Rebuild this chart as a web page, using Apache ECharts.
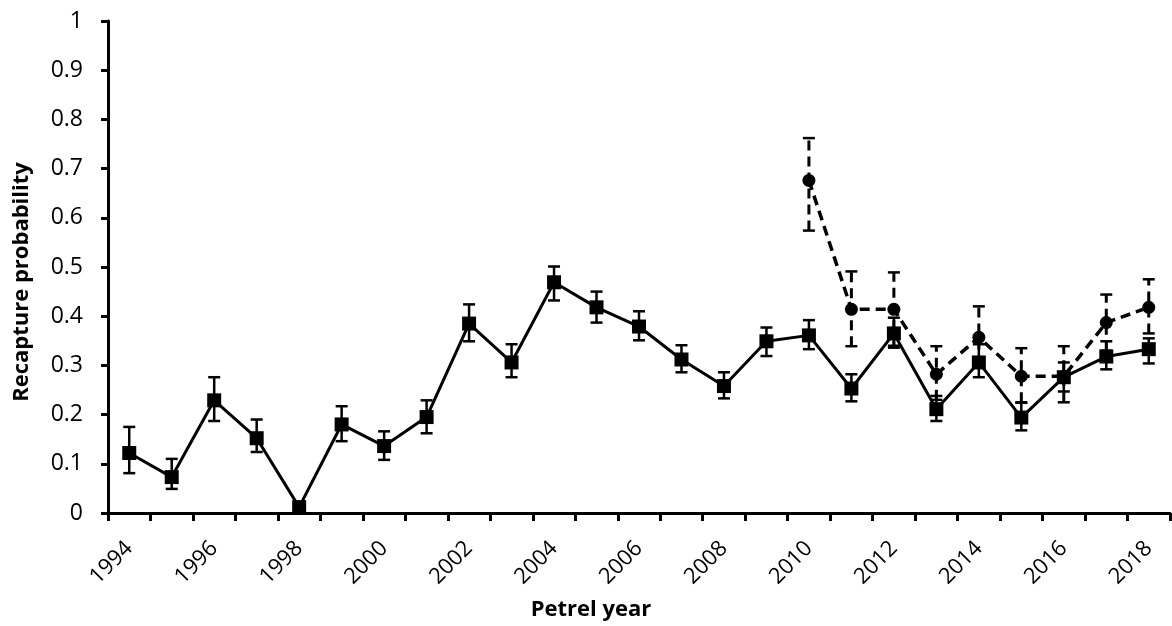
<!DOCTYPE html>
<html>
<head>
<meta charset="utf-8">
<script src="https://cdn.jsdelivr.net/npm/echarts@6/dist/echarts.min.js"></script>
<style>html,body{margin:0;padding:0;background:#fff;}#c{width:1172px;height:626px;}</style>
</head>
<body>
<div id="c"></div>
<script>
const years = ['1994','1995','1996','1997','1998','1999','2000','2001','2002','2003','2004','2005','2006','2007','2008','2009','2010','2011','2012','2013','2014','2015','2016','2017','2018'];
const yTicks = [0,0.1,0.2,0.3,0.4,0.5,0.6,0.7,0.8,0.9,1];

// Solid series (squares)
const solidValues = [0.122,0.073,0.229,0.152,0.012,0.180,0.136,0.195,0.385,0.306,0.469,0.418,0.379,0.312,0.258,0.349,0.361,0.253,0.365,0.211,0.306,0.194,0.276,0.318,0.333];
const solidLower  = [0.081,0.049,0.187,0.124,0.004,0.146,0.108,0.162,0.349,0.276,0.432,0.387,0.351,0.286,0.233,0.319,0.333,0.227,0.336,0.187,0.276,0.168,0.247,0.292,0.304];
const solidUpper  = [0.175,0.110,0.276,0.190,0.022,0.217,0.166,0.229,0.424,0.343,0.501,0.450,0.410,0.341,0.286,0.377,0.392,0.282,0.397,0.238,0.343,0.224,0.306,0.349,0.355];

// Dashed series (circles), 2010-2018
const dashedYears  = ['2010','2011','2012','2013','2014','2015','2016','2017','2018'];
const dashedValues = [0.676,0.414,0.414,0.282,0.357,0.278,0.278,0.387,0.418];
const dashedLower  = [0.574,0.339,0.340,0.230,0.300,0.225,0.225,0.330,0.365];
const dashedUpper  = [0.762,0.491,0.489,0.339,0.420,0.335,0.339,0.444,0.475];

const solidData = years.map((y,i)=>[y, solidValues[i]]);
const solidErr = years.map((y,i)=>[i, solidLower[i], solidUpper[i]]);
const dashedData = dashedYears.map((y,i)=>[y, dashedValues[i]]);
const dashedErr = dashedYears.map((y,i)=>[years.indexOf(y), dashedLower[i], dashedUpper[i]]);

function errRender(dash){
  return function(params, api){
    const x = api.value(0);
    const lo = api.coord([x, api.value(1)]);
    const hi = api.coord([x, api.value(2)]);
    const hw = 6;
    const st = {stroke:'#000', lineWidth:2.5};
    return {type:'group', children:[
      {type:'line', shape:{x1:lo[0],y1:lo[1],x2:hi[0],y2:hi[1]}, style:Object.assign({}, st, dash?{lineDash:[10,6], lineWidth:3}:{})},
      {type:'line', shape:{x1:lo[0]-hw,y1:lo[1],x2:lo[0]+hw,y2:lo[1]}, style:st},
      {type:'line', shape:{x1:hi[0]-hw,y1:hi[1],x2:hi[0]+hw,y2:hi[1]}, style:st}
    ]};
  };
}

const chart = echarts.init(document.getElementById('c'));
chart.setOption({
  animation:false,
  backgroundColor:'#fff',
  grid:{left:108, right:2, top:21, bottom:112, containLabel:false},
  xAxis:{
    type:'category', data:years, boundaryGap:true,
    name:'Petrel year', nameLocation:'middle', nameGap:86,
    nameTextStyle:{fontFamily:'Open Sans', fontWeight:'bold', fontSize:22, color:'#000', padding:[0,96,0,0]},
    axisLine:{lineStyle:{color:'#000', width:3}},
    axisTick:{show:true, interval:0, length:8, lineStyle:{color:'#000', width:3}},
    axisLabel:{interval:1, rotate:45, margin:32, fontFamily:'Open Sans', fontSize:22, color:'#000'},
    splitLine:{show:false}
  },
  yAxis:{
    type:'value', min:0, max:1, interval:0.1,
    name:'Recapture probability', nameLocation:'middle', nameGap:75, nameRotate:90,
    nameTextStyle:{fontFamily:'Open Sans', fontWeight:'bold', fontSize:22, color:'#000', padding:[0,30,0,0]},
    axisLine:{show:true, lineStyle:{color:'#000', width:3}},
    axisTick:{show:true, length:7, lineStyle:{color:'#000', width:3}},
    axisLabel:{margin:25, fontFamily:'Open Sans', fontSize:23, color:'#000',
      formatter:function(v){ const t = yTicks.find(k=>Math.abs(k-v)<1e-9); return String(t!==undefined?t:v); }},
    splitLine:{show:false}
  },
  series:[
    {type:'custom', renderItem:errRender(false), data:solidErr, z:3, encode:{x:0,y:[1,2]}},
    {type:'custom', renderItem:errRender(true), data:dashedErr, z:3, encode:{x:0,y:[1,2]}},
    {type:'line', data:solidData, symbol:'rect', symbolSize:14, z:4,
      lineStyle:{color:'#000', width:3}, itemStyle:{color:'#000'}},
    {type:'line', data:dashedData, symbol:'circle', symbolSize:13, z:4,
      lineStyle:{color:'#000', width:3.5, type:[10,6]}, itemStyle:{color:'#000'}}
  ]
});
</script>
</body>
</html>
